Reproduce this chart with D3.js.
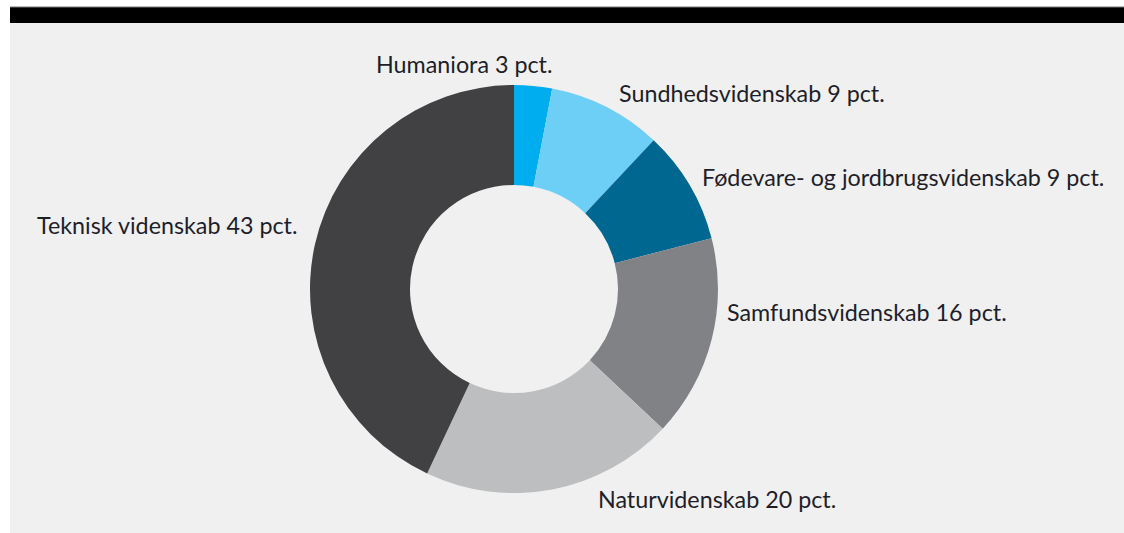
<!DOCTYPE html>
<html><head><meta charset="utf-8">
<script src="https://cdn.jsdelivr.net/npm/d3@7"></script>
<style>html,body{margin:0;padding:0;background:#fff;}svg{display:block;}</style>
</head><body>
<svg id="c" width="1124" height="533"></svg>
<script>
const categories = ["Humaniora","Sundhedsvidenskab","Fødevare- og jordbrugsvidenskab","Samfundsvidenskab","Naturvidenskab","Teknisk videnskab"];
const values = [3, 9, 9, 16, 20, 43];
const unit = "pct.";
const colors = ["#00aeef","#6dcff6","#006890","#808285","#bcbec0","#414042"];
// label anchor positions (left x, baseline y)
const labelX = [376, 619, 702, 727, 598, 37];
const labelY = [73, 102, 186, 321, 508, 234];

const svg = d3.select("#c");
svg.append("rect").attr("x",10).attr("y",23).attr("width",1114).attr("height",510).attr("fill","#f0f0f0");
svg.append("rect").attr("x",10).attr("y",7).attr("width",1114).attr("height",16).attr("fill","#000");
svg.append("line").attr("x1",10).attr("x2",1124).attr("y1",7).attr("y2",7).attr("stroke","#777").attr("stroke-width",1);

const cx = 514, cy = 289, rOut = 204, rIn = 104;
const pie = d3.pie().sort(null).value(d=>d);
const arc = d3.arc().innerRadius(rIn).outerRadius(rOut);
const g = svg.append("g").attr("transform",`translate(${cx},${cy})`);
g.selectAll("path").data(pie(values)).join("path")
  .attr("d",arc).attr("fill",(d,i)=>colors[i]);

svg.selectAll("text.lbl").data(categories).join("text")
  .attr("class","lbl")
  .attr("x",(d,i)=>labelX[i]).attr("y",(d,i)=>labelY[i])
  .attr("font-family","Lato, 'Open Sans', sans-serif")
  .attr("font-size",23.3)
  .attr("fill","#1e1e2a")
  .text((d,i)=>`${d} ${values[i]} ${unit}`);
</script>
</body></html>
